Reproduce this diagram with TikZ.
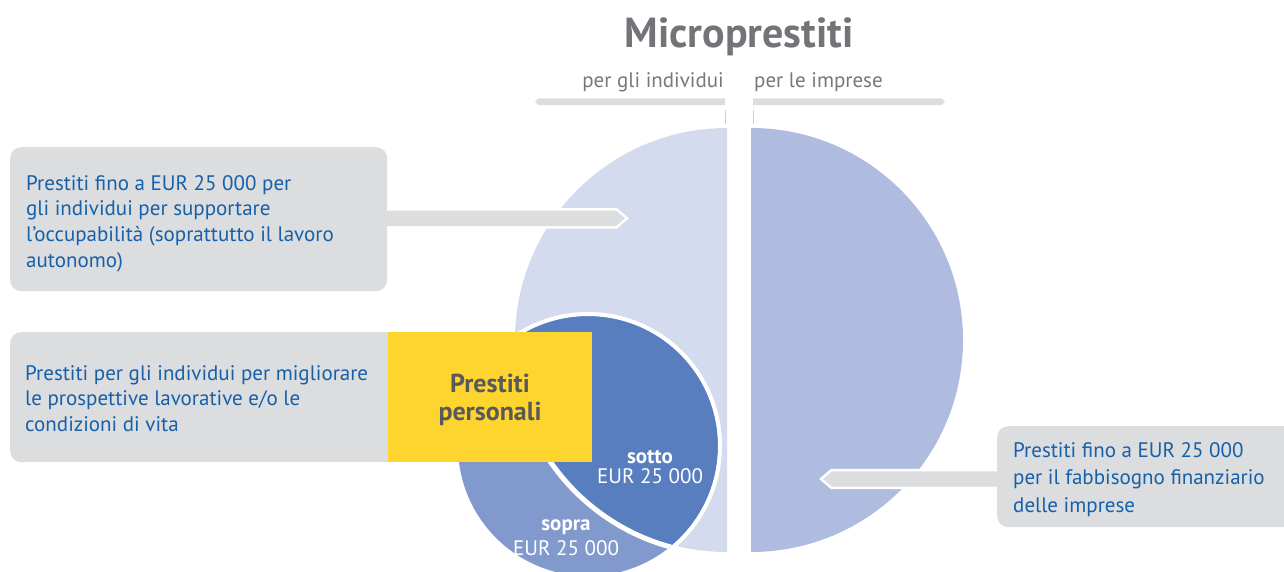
\documentclass[tikz,border=0pt]{standalone}
\usepackage{fontspec}
\setmainfont{PT Sans}
\usetikzlibrary{calc}
\definecolor{boxgrey}{HTML}{DCDDDF}
\definecolor{txtblue}{HTML}{1660AA}
\definecolor{titlegrey}{HTML}{737477}
\definecolor{hdrgrey}{HTML}{77787B}
\definecolor{tickgrey}{HTML}{CFCFD1}
\definecolor{lightL}{HTML}{D5DBEF}
\definecolor{rightR}{HTML}{AFBCE0}
\definecolor{darkB}{HTML}{587EBF}
\definecolor{medB}{HTML}{8299CD}
\definecolor{yell}{HTML}{FED52F}
\definecolor{persgrey}{HTML}{58595B}
\begin{document}
\begin{tikzpicture}[x=1pt,y=-1pt,
  txt/.style={font=\fontsize{21}{25}\selectfont, text=txtblue, inner sep=0pt, anchor=base west},
  hdr/.style={font=\fontsize{21}{25}\selectfont, text=hdrgrey, inner sep=0pt},
  ttl/.style={font=\fontsize{42}{46}\selectfont\bfseries, text=titlegrey, inner sep=0pt, anchor=base},
  pers/.style={font=\fontsize{26}{30}\selectfont\bfseries, text=persgrey, inner sep=0pt, anchor=base},
  wbold/.style={font=\fontsize{21}{25}\selectfont\bfseries, text=white, inner sep=0pt, anchor=base},
  wreg/.style={font=\fontsize{21}{25}\selectfont, text=white, inner sep=0pt, anchor=base},
  greybox/.style={fill=boxgrey, rounded corners=11pt, inner sep=0pt, anchor=north west},
  halo/.style={draw=white, line width=5pt, line join=miter},
  barfill/.style={fill=boxgrey},
  tick/.style={draw=tickgrey, line width=1pt},
]
\path[use as bounding box] (0,0) rectangle (1284,572);

% big circle halves
\begin{scope}
  \clip (0,0) rectangle (727,572);
  \fill[lightL] (727,340) circle[radius=212];
\end{scope}
\begin{scope}
  \clip (751,0) rectangle (1284,572);
  \fill[rightR] (751,340) circle[radius=212];
\end{scope}

% personal loans circle
\fill[medB] (588,446) circle[radius=130];
\begin{scope}
  \clip (727,340) circle[radius=212];
  \clip (0,0) rectangle (727,572);
  \fill[darkB] (588,446) circle[radius=130];
  \draw[white, line width=4pt] (588,446) circle[radius=132];
\end{scope}
\begin{scope}
  \clip (588,446) circle[radius=130];
  \draw[white, line width=5pt] (727,340) circle[radius=214.5];
\end{scope}

% top header bars and ticks
\fill[boxgrey] (535,101.7) -- (538.5,98.3) -- (725,98.3) -- (725,105.1) -- (538.5,105.1) -- cycle;
\fill[boxgrey] (945,101.7) -- (941.5,98.3) -- (753,98.3) -- (753,105.1) -- (941.5,105.1) -- cycle;
\draw[tick] (725,110) -- (725,124);
\draw[tick] (753,110) -- (753,124);

\node[ttl] (tit) at (739,48) {Microprestiti};
\node[hdr, anchor=base east] (pgi) at (724,88) {per gli individui};
\node[hdr, anchor=base west] (ple) at (754,88) {per le imprese};

% box 1
\node[greybox, minimum width=377pt, minimum height=144pt] (b1) at (10,147) {};
\node[txt] (b1a) at (26,190) {Prestiti fino a EUR 25 000 per};
\node[txt] (b1b) at (26,215.8) {gli individui per supportare};
\node[txt] (b1c) at (26,241.6) {l’occupabilità (soprattutto il lavoro};
\node[txt] (b1d) at (26,267.4) {autonomo)};
\coordinate (tipL) at (625,218.3);
\draw[halo] ($(b1.east |- tipL)+(0,-7.7)$) -- ($(tipL)+(-9,-7.7)$) -- (tipL) -- ($(tipL)+(-9,7.7)$) -- ($(b1.east |- tipL)+(0,7.7)$);
\fill[barfill] ($(b1.east |- tipL)+(-2,-7.7)$) -- ($(tipL)+(-9,-7.7)$) -- (tipL) -- ($(tipL)+(-9,7.7)$) -- ($(b1.east |- tipL)+(-2,7.7)$) -- cycle;

% box 2 + yellow
\node[greybox, minimum width=390pt, minimum height=130pt] (b2) at (10,332) {};
\node[fill=yell, inner sep=0pt, anchor=north west, minimum width=204pt, minimum height=130pt] (yb) at (388,332) {};
\node[txt] (b2a) at (25,380) {Prestiti per gli individui per migliorare};
\node[txt] (b2b) at (25,405.5) {le prospettive lavorative e/o le};
\node[txt] (b2c) at (25,431) {condizioni di vita};
\node[pers] (ypa) at (490,392) {Prestiti};
\node[pers] (ypb) at (490,420) {personali};

% circle labels
\node[wbold] (sot) at (650,463) {sotto};
\node[wreg] (sotv) at (650,483) {EUR 25 000};
\node[wbold] (sop) at (566,530) {sopra};
\node[wreg] (sopv) at (566,555) {EUR 25 000};

% box 3
\begin{scope}
  \clip (0,0) rectangle (1284,572);
  \node[greybox, minimum width=310pt, minimum height=101pt] (b3) at (997,426) {};
\end{scope}
\node[txt] (b3a) at (1013,457) {Prestiti fino a EUR 25 000};
\node[txt] (b3b) at (1013,484.5) {per il fabbisogno finanziario};
\node[txt] (b3c) at (1013,512) {delle imprese};
\coordinate (tipR) at (823,479);
\draw[halo] ($(b3.west |- tipR)+(0,-7.7)$) -- ($(tipR)+(9,-7.7)$) -- (tipR) -- ($(tipR)+(9,7.7)$) -- ($(b3.west |- tipR)+(0,7.7)$);
\fill[barfill] ($(b3.west |- tipR)+(2,-7.7)$) -- ($(tipR)+(9,-7.7)$) -- (tipR) -- ($(tipR)+(9,7.7)$) -- ($(b3.west |- tipR)+(2,7.7)$) -- cycle;
\end{tikzpicture}
\end{document}
